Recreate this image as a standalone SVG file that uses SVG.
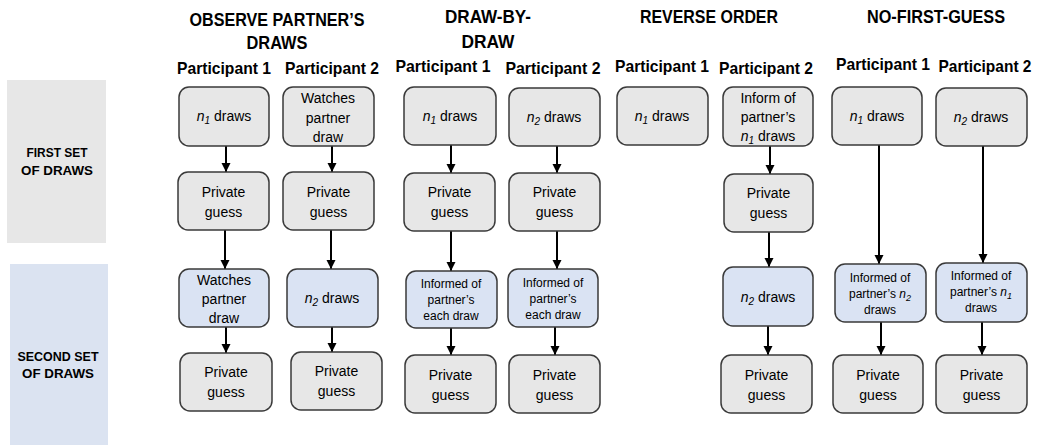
<svg xmlns="http://www.w3.org/2000/svg" width="1039" height="445" viewBox="0 0 1039 445">
<style>
text{font-family:"Liberation Sans",Arial,sans-serif;fill:#000;text-anchor:middle}
.h{font-weight:bold;font-size:18px}
.p{font-weight:bold;font-size:17px}
.bl{font-weight:bold;font-size:13px}
.t{font-size:14px}
.s{font-size:12px}
.i{font-style:italic}
.g{fill:#e7e7e7;stroke:#3a3a3a;stroke-width:1.5}
.b{fill:#dae3f3;stroke:#3a3a3a;stroke-width:1.5}
.c line{stroke:#000;stroke-width:2;marker-end:url(#ah)}
</style>
<defs>
<marker id="ah" markerUnits="userSpaceOnUse" markerWidth="10" markerHeight="10" refX="9" refY="5" orient="auto" viewBox="0 0 10 10">
<path d="M0,0.5 L9,5 L0,9.5 Z" fill="#000"/>
</marker>
</defs>
<rect width="1039" height="445" fill="#fff"/>
<g id="band-first">
<rect x="7" y="80" width="99" height="163" fill="#e7e7e7"/>
<text class="bl" x="57" y="157" textLength="61" lengthAdjust="spacingAndGlyphs">FIRST SET</text>
<text class="bl" x="57" y="175" textLength="72" lengthAdjust="spacingAndGlyphs">OF DRAWS</text>
</g>
<g id="band-second">
<rect x="10" y="264" width="98" height="181" fill="#dbe3f1"/>
<text class="bl" x="58" y="361" textLength="81" lengthAdjust="spacingAndGlyphs">SECOND SET</text>
<text class="bl" x="58" y="378" textLength="72" lengthAdjust="spacingAndGlyphs">OF DRAWS</text>
</g>
<g id="headers">
<text class="h" x="277" y="26" textLength="175" lengthAdjust="spacingAndGlyphs">OBSERVE PARTNER’S</text>
<text class="h" x="277" y="49" textLength="61" lengthAdjust="spacingAndGlyphs">DRAWS</text>
<text class="h" x="488" y="23" textLength="86" lengthAdjust="spacingAndGlyphs">DRAW-BY-</text>
<text class="h" x="488" y="48" textLength="53" lengthAdjust="spacingAndGlyphs">DRAW</text>
<text class="h" x="709" y="23" textLength="138" lengthAdjust="spacingAndGlyphs">REVERSE ORDER</text>
<text class="h" x="936" y="23" textLength="138" lengthAdjust="spacingAndGlyphs">NO-FIRST-GUESS</text>
<text class="p" x="224" y="74" textLength="94" lengthAdjust="spacingAndGlyphs">Participant 1</text>
<text class="p" x="332" y="74" textLength="94" lengthAdjust="spacingAndGlyphs">Participant 2</text>
<text class="p" x="443" y="72" textLength="95" lengthAdjust="spacingAndGlyphs">Participant 1</text>
<text class="p" x="553" y="74" textLength="95" lengthAdjust="spacingAndGlyphs">Participant 2</text>
<text class="p" x="662" y="72" textLength="94" lengthAdjust="spacingAndGlyphs">Participant 1</text>
<text class="p" x="766" y="74" textLength="94" lengthAdjust="spacingAndGlyphs">Participant 2</text>
<text class="p" x="883" y="70" textLength="94" lengthAdjust="spacingAndGlyphs">Participant 1</text>
<text class="p" x="985" y="72" textLength="93" lengthAdjust="spacingAndGlyphs">Participant 2</text>
</g>
<g class="c" id="connectors">
<line x1="226" y1="146" x2="226" y2="172"/>
<line x1="225" y1="230" x2="225" y2="269"/>
<line x1="226" y1="327" x2="226" y2="353"/>
<line x1="332" y1="146" x2="332" y2="172"/>
<line x1="331" y1="230" x2="331" y2="269"/>
<line x1="332" y1="327" x2="332" y2="352"/>
<line x1="451" y1="145" x2="451" y2="173"/>
<line x1="451" y1="231" x2="451" y2="271"/>
<line x1="451" y1="328" x2="451" y2="355"/>
<line x1="557" y1="146" x2="557" y2="173"/>
<line x1="557" y1="231" x2="557" y2="269"/>
<line x1="555" y1="327" x2="555" y2="355"/>
<line x1="770" y1="146" x2="770" y2="174"/>
<line x1="769" y1="232" x2="769" y2="267"/>
<line x1="768" y1="326" x2="768" y2="355"/>
<line x1="879" y1="145" x2="879" y2="264"/>
<line x1="881" y1="322" x2="881" y2="355"/>
<line x1="983" y1="146" x2="983" y2="263"/>
<line x1="982" y1="322" x2="982" y2="355"/>
</g>
<g id="A1"><rect class="g" x="179" y="87" width="90" height="59" rx="10"/><text class="t" x="224" y="121"><tspan class="i">n</tspan><tspan class="i" font-size="10" dy="3">1</tspan><tspan dy="-3"> draws</tspan></text></g>
<g id="B1"><rect class="g" x="283" y="87" width="91" height="59" rx="10"/><text class="t" x="328" y="103">Watches</text><text class="t" x="328" y="123">partner</text><text class="t" x="328" y="142">draw</text></g>
<g id="C1"><rect class="g" x="404" y="87" width="92" height="58" rx="10"/><text class="t" x="450" y="121"><tspan class="i">n</tspan><tspan class="i" font-size="10" dy="3">1</tspan><tspan dy="-3"> draws</tspan></text></g>
<g id="D1"><rect class="g" x="509" y="88" width="91" height="58" rx="10"/><text class="t" x="554" y="122"><tspan class="i">n</tspan><tspan class="i" font-size="10" dy="3">2</tspan><tspan dy="-3"> draws</tspan></text></g>
<g id="E1"><rect class="g" x="617" y="87" width="91" height="58" rx="10"/><text class="t" x="662" y="121"><tspan class="i">n</tspan><tspan class="i" font-size="10" dy="3">1</tspan><tspan dy="-3"> draws</tspan></text></g>
<g id="F1"><rect class="g" x="723" y="87" width="90" height="59" rx="10"/><text class="t" x="768" y="103">Inform of</text><text class="t" x="768" y="122">partner’s</text><text class="t" x="768" y="141"><tspan class="i">n</tspan><tspan class="i" font-size="10" dy="3">1</tspan><tspan dy="-3"> draws</tspan></text></g>
<g id="G1"><rect class="g" x="832" y="87" width="90" height="58" rx="10"/><text class="t" x="877" y="121"><tspan class="i">n</tspan><tspan class="i" font-size="10" dy="3">1</tspan><tspan dy="-3"> draws</tspan></text></g>
<g id="H1"><rect class="g" x="936" y="88" width="91" height="58" rx="10"/><text class="t" x="981" y="122"><tspan class="i">n</tspan><tspan class="i" font-size="10" dy="3">2</tspan><tspan dy="-3"> draws</tspan></text></g>
<g id="A2"><rect class="g" x="178" y="172" width="91" height="58" rx="10"/><text class="t" x="223.5" y="197">Private</text><text class="t" x="223.5" y="217">guess</text></g>
<g id="B2"><rect class="g" x="283" y="172" width="91" height="58" rx="10"/><text class="t" x="328.5" y="197">Private</text><text class="t" x="328.5" y="217">guess</text></g>
<g id="C2"><rect class="g" x="404" y="173" width="91" height="58" rx="10"/><text class="t" x="449.5" y="197">Private</text><text class="t" x="449.5" y="217">guess</text></g>
<g id="D2"><rect class="g" x="509" y="173" width="91" height="58" rx="10"/><text class="t" x="554.5" y="197">Private</text><text class="t" x="554.5" y="217">guess</text></g>
<g id="F2"><rect class="g" x="724" y="174" width="89" height="58" rx="10"/><text class="t" x="768.5" y="198">Private</text><text class="t" x="768.5" y="218">guess</text></g>
<g id="A3"><rect class="b" x="179" y="269" width="90" height="58" rx="10"/><text class="t" x="224" y="285">Watches</text><text class="t" x="224" y="304">partner</text><text class="t" x="224" y="323">draw</text></g>
<g id="B3"><rect class="b" x="287" y="269" width="91" height="58" rx="10"/><text class="t" x="332" y="303"><tspan class="i">n</tspan><tspan class="i" font-size="10" dy="3">2</tspan><tspan dy="-3"> draws</tspan></text></g>
<g id="C3"><rect class="b" x="406" y="271" width="91" height="57" rx="10"/><text class="s" x="451" y="288">Informed of</text><text class="s" x="451" y="304">partner’s</text><text class="s" x="451" y="320">each draw</text></g>
<g id="D3"><rect class="b" x="508" y="269" width="90" height="58" rx="10"/><text class="s" x="553" y="287">Informed of</text><text class="s" x="553" y="303">partner’s</text><text class="s" x="553" y="319">each draw</text></g>
<g id="F3"><rect class="b" x="723" y="267" width="90" height="59" rx="10"/><text class="t" x="768" y="302"><tspan class="i">n</tspan><tspan class="i" font-size="10" dy="3">2</tspan><tspan dy="-3"> draws</tspan></text></g>
<g id="G3"><rect class="b" x="835" y="264" width="91" height="58" rx="10"/><text class="s" x="880" y="282">Informed of</text><text class="s" x="880" y="298">partner’s <tspan class="i">n</tspan><tspan class="i" font-size="9" dy="3">2</tspan></text><text class="s" x="880" y="314">draws</text></g>
<g id="H3"><rect class="b" x="936" y="263" width="91" height="59" rx="10"/><text class="s" x="981" y="280">Informed of</text><text class="s" x="981" y="296">partner’s <tspan class="i">n</tspan><tspan class="i" font-size="9" dy="3">1</tspan></text><text class="s" x="981" y="312">draws</text></g>
<g id="A4"><rect class="g" x="180" y="353" width="92" height="58" rx="10"/><text class="t" x="226" y="377">Private</text><text class="t" x="226" y="397">guess</text></g>
<g id="B4"><rect class="g" x="291" y="352" width="91" height="58" rx="10"/><text class="t" x="336.5" y="376">Private</text><text class="t" x="336.5" y="396">guess</text></g>
<g id="C4"><rect class="g" x="405" y="355" width="91" height="58" rx="10"/><text class="t" x="450.5" y="380">Private</text><text class="t" x="450.5" y="400">guess</text></g>
<g id="D4"><rect class="g" x="509" y="355" width="91" height="58" rx="10"/><text class="t" x="554.5" y="380">Private</text><text class="t" x="554.5" y="400">guess</text></g>
<g id="F4"><rect class="g" x="721" y="355" width="91" height="58" rx="10"/><text class="t" x="766.5" y="380">Private</text><text class="t" x="766.5" y="400">guess</text></g>
<g id="G4"><rect class="g" x="833" y="355" width="90" height="58" rx="10"/><text class="t" x="878" y="380">Private</text><text class="t" x="878" y="400">guess</text></g>
<g id="H4"><rect class="g" x="936" y="355" width="91" height="58" rx="10"/><text class="t" x="981.5" y="380">Private</text><text class="t" x="981.5" y="400">guess</text></g>
</svg>
